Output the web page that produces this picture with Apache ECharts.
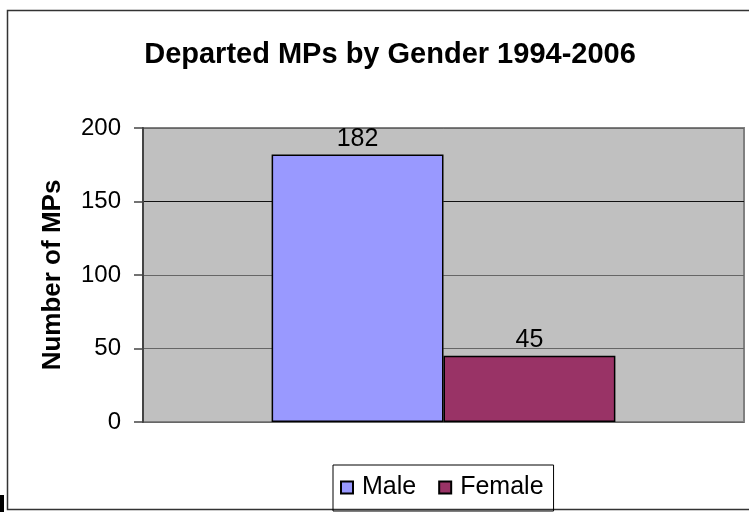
<!DOCTYPE html>
<html>
<head>
<meta charset="UTF-8"/>
<title>Departed MPs by Gender</title>
<script src="https://cdn.jsdelivr.net/npm/echarts@6/dist/echarts.min.js"></script>
<style>
  html, body { margin: 0; padding: 0; background: #fff; }
  #chart { width: 749px; height: 512px; }
</style>
</head>
<body>
<div id="chart"></div>
<script>
var categories = [''];
var seriesNames = ['Male', 'Female'];
var maleValues = [182];
var femaleValues = [45];
var yTicks = { min: 0, max: 200, interval: 50 };

var myChart = echarts.init(document.getElementById('chart'));
var font = 'Liberation Sans, Arial, sans-serif';

var option = {
    backgroundColor: '#fff',
    animation: false,
    title: {
        text: 'Departed MPs by Gender 1994-2006',
        left: 385,
        textAlign: 'center',
        top: 35,
        textStyle: { fontFamily: font, fontSize: 29, fontWeight: 'bold', color: '#000' }
    },
    legend: {
        data: seriesNames,
        icon: 'rect',
        left: 333,
        top: 465,
        itemWidth: 12,
        itemHeight: 12,
        itemGap: 22,
        padding: [10, 10, 11, 7],
        borderColor: '#000',
        borderWidth: 1,
        textStyle: { fontFamily: font, fontSize: 25, color: '#000', padding: [0, 0, 0, 4] }
    },
    grid: { left: 143, top: 128, right: 5, bottom: 90, show: true,
        backgroundColor: '#c0c0c0', borderColor: '#808080', borderWidth: 2 },
    xAxis: {
        type: 'category',
        data: categories,
        axisLine: { show: false },
        axisTick: { show: false },
        axisLabel: { show: false }
    },
    yAxis: {
        type: 'value',
        min: yTicks.min,
        max: yTicks.max,
        interval: yTicks.interval,
        name: 'Number of MPs',
        nameLocation: 'middle',
        nameGap: 77,
        nameTextStyle: { fontFamily: font, fontSize: 26, fontWeight: 'bold', color: '#000' },
        axisLine: { show: true, lineStyle: { color: '#444', width: 2 } },
        axisTick: { show: true, length: 9, lineStyle: { color: '#444', width: 1.5 } },
        axisLabel: { fontFamily: font, fontSize: 24, color: '#000', margin: 22 },
        splitLine: { show: true, lineStyle: { color: ['#666', '#666', '#666', '#111', '#666'], width: 1 } }
    },
    series: [
        {
            name: seriesNames[0],
            type: 'bar',
            data: maleValues,
            barWidth: '28.6%',
            barGap: '0%',
            itemStyle: { color: '#9999ff', borderColor: '#000', borderWidth: 1.5 },
            label: { show: true, position: 'top', distance: 3,
                fontFamily: font, fontSize: 25, color: '#000' }
        },
        {
            name: seriesNames[1],
            type: 'bar',
            data: femaleValues,
            barWidth: '28.6%',
            barGap: '0%',
            itemStyle: { color: '#993366', borderColor: '#000', borderWidth: 1.5 },
            label: { show: true, position: 'top', distance: 3,
                fontFamily: font, fontSize: 25, color: '#000' }
        }
    ],
    graphic: [
        { type: 'rect', silent: true, z: -1,
          shape: { x: 7.5, y: 10.5, width: 900, height: 499 },
          style: { fill: null, stroke: '#333', lineWidth: 1.5 } },
        { type: 'rect', silent: true,
          shape: { x: 0, y: 495, width: 4, height: 17 },
          style: { fill: '#000' } }
    ]
};
myChart.setOption(option);
</script>
</body>
</html>
